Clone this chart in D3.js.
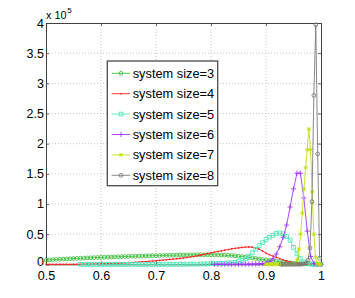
<!DOCTYPE html>
<html><head><meta charset="utf-8">
<script src="https://cdn.jsdelivr.net/npm/d3@7"></script>
<style>
html,body{margin:0;padding:0;background:#fff;}
svg{display:block;font-family:"Liberation Sans",Arial,Helvetica,sans-serif;}
</style></head>
<body>
<svg id="chart" width="355" height="298"></svg>
<script>
// ---- data (values in units of 10^5) ----
const xTicks = [0.5, 0.6, 0.7, 0.8, 0.9, 1];
const xTickLabels = ["0.5", "0.6", "0.7", "0.8", "0.9", "1"];
const yTicks = [0, 0.5, 1, 1.5, 2, 2.5, 3, 3.5, 4];
const yTickLabels = ["0", "0.5", "1", "1.5", "2", "2.5", "3", "3.5", "4"];
const legendLabels = ["system size=3", "system size=4", "system size=5", "system size=6", "system size=7", "system size=8"];

const xGrid = [
0.5,0.50625,0.5125,0.51875,0.525,0.53125,0.5375,0.54375,0.55,0.55625,
0.5625,0.56875,0.575,0.58125,0.5875,0.59375,0.6,0.60625,0.6125,0.61875,
0.625,0.63125,0.6375,0.64375,0.65,0.65625,0.6625,0.66875,0.675,0.68125,
0.6875,0.69375,0.7,0.70625,0.7125,0.71875,0.725,0.73125,0.7375,0.74375,
0.75,0.75625,0.7625,0.76875,0.775,0.78125,0.7875,0.79375,0.8,0.80625,
0.8125,0.81875,0.825,0.83125,0.8375,0.84375,0.85,0.85625,0.8625,0.86875,
0.875,0.88125,0.8875,0.89375,0.9,0.90625,0.9125,0.91875,0.925,0.93125,
0.9375,0.94375,0.95,0.95625,0.9625,0.96875,0.975,0.98125,0.9875,0.99375,
1];

const size3 = [
.070,.073,.076,.080,.083,.086,.089,.092,.095,.098,.100,.103,.105,
.108,.110,.113,.115,.117,.119,.121,.123,.125,.127,.128,.130,
.132,.134,.136,.138,.139,.141,.142,.144,.145,.147,.148,.150,
.151,.152,.154,.155,.156,.157,.157,.158,.158,.158,.158,.158,
.157,.156,.154,.152,.149,.146,.141,.135,.128,.121,.113,.105,
.097,.089,.080,.072,.065,.058,.051,.045,.039,.033,.027,.022,
.017,.013,.009,.006,.004,.002,.001,.000];
const size4 = [
0,0,0,0,0,0,0,0,0,.001,.001,.002,.003,
.004,.005,.006,.008,.010,.012,.014,.016,.018,.021,.024,.027,
.030,.034,.038,.042,.046,.050,.055,.060,.065,.070,.075,.080,
.086,.092,.098,.105,.113,.121,.130,.140,.152,.164,.177,.190,
.202,.213,.224,.235,.245,.255,.264,.272,.280,.286,.288,.284,
.272,.253,.220,.187,.160,.138,.116,.096,.075,.056,.039,.025,
.015,.009,.005,.003,.001,0,0,0];
const size5Start = 0.5625;
const size5 = [
0,0,0,0,0,0,0,0,0,0,
0,0,0,0,0,0,0,0,0,0,
0,0,0,0,.001,.001,.001,.001,.001,.002,
.002,.002,.003,.003,.004,.005,.006,.007,.009,.011,
.013,.015,.018,.022,.026,.032,.040,.060,.090,.130,
.190,.250,.310,.360,.410,.450,.480,.510,.520,.505,
.460,.400,.280,.180,.100,.040,.012,.003,0,0,0];
const size6Start = 0.80625;
const size6 = [
0,0,0,0,0,0,0,0,.001,.002,.003,
.004,.006,.008,.012,
.02,.04,.09,.17,.29,.45,.65,.95,1.25,1.51,1.51,1.1,.55,.13,.01,0,0];
const size7X = [.900,.903,.906,.909,.912,.915,.918,.921,.924,.927,.930,.933,.936,.939,.942,.945,.948,
.951,.954,.957,.960,.963,.966,.969,.972,.975,.978,.981,.984,.987,.990,.993,.996,.999];
const size7 = [0,0,0,0,0,0,0,0,0,0,0,0,0,0,.001,.002,.003,
.005,.02,.08,.25,.5,.85,1.25,1.6,1.9,2.24,1.9,1.2,.5,.12,.02,0,0];
const size8X = [.9275,.931,.9345,.938,.9415,.945,.9485,.952,.9555,.959,.9625,.966,.9695,.973,.9765,.980,.9835,.987,.9905,.994,.9975];
const size8 = [0,0,0,0,0,0,0,0,0,0,.001,.003,.008,.02,.07,.27,1.04,2.8,3.97,1.83,.1];

const colors = ["#3cbc3c", "#ff2020", "#52e8b8", "#a035ff", "#c4e010", "#7a7a7a"];
const markers = ["circle", "dot", "square", "plus", "star", "circle"];

// ---- build series ----
function fromGrid(start, vals) {
  const i0 = xGrid.findIndex(v => Math.abs(v - start) < 1e-9);
  return vals.map((v, k) => [xGrid[i0 + k], v]);
}
const series = [
  size3.map((v, k) => [xGrid[k], v]),
  size4.map((v, k) => [xGrid[k], v]),
  fromGrid(size5Start, size5),
  fromGrid(size6Start, size6),
  size7.map((v, k) => [size7X[k], v]),
  size8.map((v, k) => [size8X[k], v])
];

const svg = d3.select("#chart");
const L = 46, R = 321, T = 23, B = 264.3;
const x = d3.scaleLinear().domain([0.5, 1]).range([L, R]);
const y = d3.scaleLinear().domain([0, 4]).range([B, T]);

// grid
const grid = svg.append("g");
grid.selectAll("line.gx").data(xTicks.slice(1, -1)).enter().append("line")
  .attr("x1", d => x(d)).attr("x2", d => x(d)).attr("y1", T).attr("y2", B)
  .attr("stroke", "#b8b8b8").attr("stroke-width", 0.8).attr("stroke-dasharray", "1,2");
grid.selectAll("line.gy").data(yTicks.slice(1, -1)).enter().append("line")
  .attr("y1", d => y(d)).attr("y2", d => y(d)).attr("x1", L).attr("x2", R)
  .attr("stroke", "#b8b8b8").attr("stroke-width", 0.8).attr("stroke-dasharray", "1,2");

// axes
const fontSize = 12.5;
const ax = svg.append("g").attr("transform", `translate(0,${B})`)
  .call(d3.axisBottom(x).tickValues(xTicks).tickFormat((d, i) => xTickLabels[i]).tickSize(-3).tickPadding(7));
const ay = svg.append("g").attr("transform", `translate(${L},0)`)
  .call(d3.axisLeft(y).tickValues(yTicks).tickFormat((d, i) => yTickLabels[i]).tickSize(-3).tickPadding(2));
const axTop = svg.append("g").attr("transform", `translate(0,${T})`)
  .call(d3.axisTop(x).tickValues(xTicks).tickFormat("").tickSize(-3));
const ayRight = svg.append("g").attr("transform", `translate(${R},0)`)
  .call(d3.axisRight(y).tickValues(yTicks).tickFormat("").tickSize(-3));
[ax, ay, axTop, ayRight].forEach(g => {
  g.select(".domain").attr("stroke", "#404040").attr("stroke-width", 1);
  g.selectAll(".tick line").attr("stroke", "#404040").attr("stroke-width", 0.8);
  g.selectAll("text").attr("font-size", fontSize).attr("fill", "#000")
    .attr("font-family", "'Liberation Sans',Arial,sans-serif");
});
// the y "0" label sits a bit higher so it clears the x "0.5" label
ay.selectAll(".tick").filter(d => d === 0).select("text").attr("dy", "0.1em");

// exponent label
const ex = svg.append("text").attr("x", 46).attr("y", 19.3).attr("font-size", 10.8).attr("fill", "#000");
ex.append("tspan").text("x 10");
ex.append("tspan").attr("font-size", 8).attr("dy", -6.2).attr("dx", 0.8).text("5");

// marker drawer
function drawMarker(g, type, cx, cy, color) {
  if (type === "circle") {
    g.append("circle").attr("cx", cx).attr("cy", cy).attr("r", 1.9)
      .attr("fill", "none").attr("stroke", color).attr("stroke-width", 0.85);
  } else if (type === "dot") {
    g.append("circle").attr("cx", cx).attr("cy", cy).attr("r", 0.85).attr("fill", color);
  } else if (type === "square") {
    g.append("rect").attr("x", cx - 1.9).attr("y", cy - 1.9).attr("width", 3.8).attr("height", 3.8)
      .attr("fill", "none").attr("stroke", color).attr("stroke-width", 0.85);
  } else if (type === "plus") {
    g.append("path").attr("d", `M${cx - 2.6},${cy}H${cx + 2.6}M${cx},${cy - 2.6}V${cy + 2.6}`)
      .attr("stroke", color).attr("stroke-width", 0.85);
  } else if (type === "star") {
    const s = 2.1, d = 1.6;
    g.append("path").attr("d", `M${cx - s},${cy}H${cx + s}M${cx},${cy - s}V${cy + s}M${cx - d},${cy - d}L${cx + d},${cy + d}M${cx - d},${cy + d}L${cx + d},${cy - d}`)
      .attr("stroke", color).attr("stroke-width", 0.9);
  }
}

// series
const line = d3.line().x(d => x(d[0])).y(d => y(d[1]));
const plot = svg.append("g");
series.forEach((data, si) => {
  const g = plot.append("g");
  g.append("path").attr("d", line(data)).attr("fill", "none")
    .attr("stroke", colors[si]).attr("stroke-width", 0.9);
  data.forEach(d => drawMarker(g, markers[si], x(d[0]), y(d[1]), colors[si]));
});

// legend
const lg = svg.append("g");
lg.append("rect").attr("x", 107.3).attr("y", 61).attr("width", 110.4).attr("height", 124.7)
  .attr("fill", "#fff").attr("stroke", "#4a4a4a").attr("stroke-width", 1.3);
legendLabels.forEach((lab, i) => {
  const cy = 73.3 + i * 20.4;
  lg.append("line").attr("x1", 111.7).attr("x2", 130).attr("y1", cy).attr("y2", cy)
    .attr("stroke", colors[i]).attr("stroke-width", 0.9);
  drawMarker(lg, markers[i], 121, cy, colors[i]);
  lg.append("text").attr("x", 132.7).attr("y", cy + 4.4).attr("font-size", 12.8).attr("fill", "#000").text(lab);
});
</script>
</body></html>
